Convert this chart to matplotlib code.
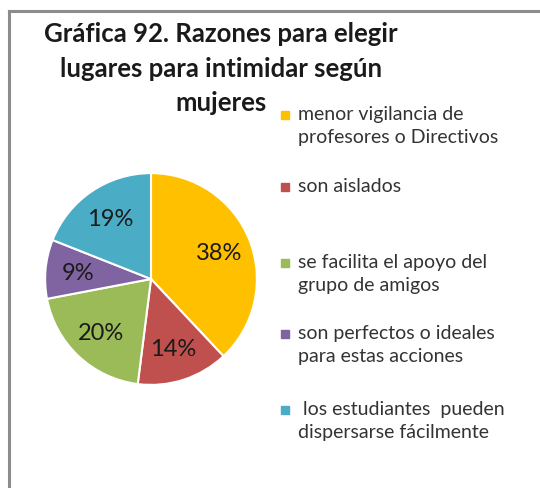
import matplotlib
matplotlib.use("Agg")
import matplotlib.pyplot as plt
from matplotlib.patches import Rectangle
from matplotlib.lines import Line2D

categories = [
    "menor vigilancia de\nprofesores o Directivos",
    "son aislados",
    "se facilita el apoyo del\ngrupo de amigos",
    "son perfectos o ideales\npara estas acciones",
    " los estudiantes  pueden\ndispersarse fácilmente",
]
values = [38, 14, 20, 9, 19]
colors = ["#FFC000", "#C0504D", "#9BBB59", "#8064A2", "#4BACC6"]
title_lines = [
    "Gráfica 92. Razones para elegir",
    "lugares para intimidar según",
    "mujeres",
]

W, H = 540, 489
fig = plt.figure(figsize=(W / 100, H / 100), dpi=100)
plt.rcParams["font.family"] = ["Lato", "DejaVu Sans"]


def fx(x):
    return x / W


def fy(y):
    return 1 - y / H


# chart frame (top and left edges visible)
fig.add_artist(Line2D([fx(9), fx(9)], [fy(12), fy(489)], color="#8c8c8c", lw=2.2))
fig.add_artist(Line2D([fx(9), fx(540)], [fy(12), fy(12)], color="#8c8c8c", lw=2.2))

# pie
cx, cy, r = 151, 280, 108
ax = fig.add_axes([fx(cx - r), fy(cy + r), 2 * r / W, 2 * r / H])
wedges, texts, autotexts = ax.pie(
    values,
    colors=colors,
    startangle=90,
    counterclock=False,
    autopct=lambda p: f"{p:.0f}%",
    pctdistance=0.69,
    wedgeprops=dict(edgecolor="white", linewidth=1.5),
    textprops=dict(fontsize=17, color="#1a1a1a"),
)
ax.set_xlim(-1.02, 1.02)
ax.set_ylim(-1.02, 1.02)
ax.set_aspect("equal")
ax.axis("off")

# title, one text per line
for line, y in zip(title_lines, [34, 69, 103]):
    fig.text(fx(221), fy(y), line, ha="center", va="center", fontsize=18.5,
             fontweight="bold", color="#1a1a1a")

# legend
legend_y = [116, 188, 264, 335, 411]
for c, label, y in zip(colors, categories, legend_y):
    fig.add_artist(Rectangle((fx(281), fy(y + 4)), 8 / W, 8 / H, color=c,
                             transform=fig.transFigure))
    fig.text(fx(298), fy(y - 10), label, ha="left", va="top", fontsize=14,
             color="#333333", linespacing=1.45)

fig.savefig("out.png", dpi=100)
